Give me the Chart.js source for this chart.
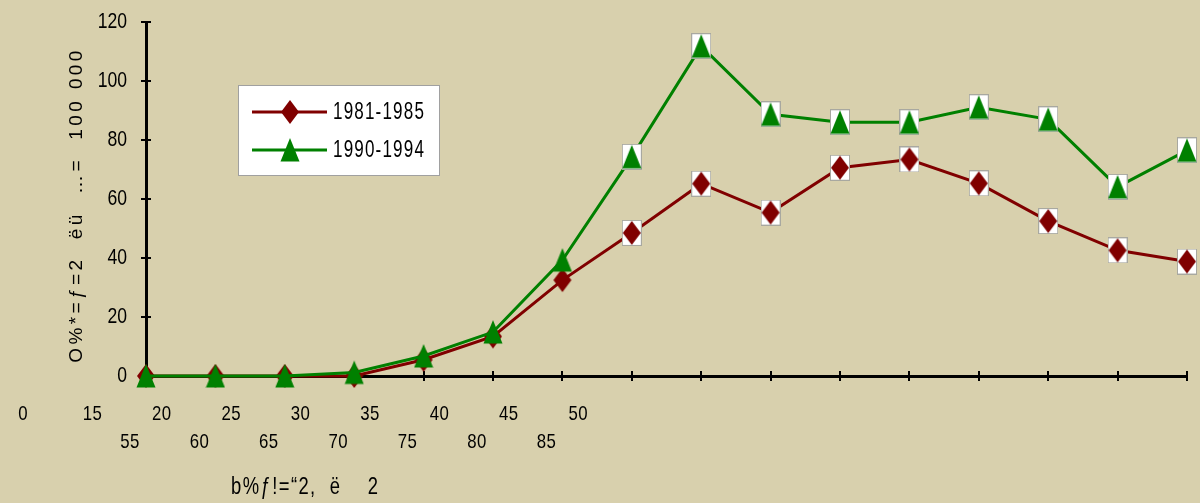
<!DOCTYPE html>
<html>
<head>
<meta charset="utf-8">
<script src="https://cdn.jsdelivr.net/npm/chart.js@4.4.1/dist/chart.umd.min.js"></script>
<style>
  html, body { margin: 0; padding: 0; background: #d8d0ad; }
  #wrap { width: 1200px; height: 503px; position: relative; }
  canvas { display: block; }
</style>
</head>
<body>
<div id="wrap"><canvas id="chart" width="1200" height="503"></canvas></div>
<script>
// Age groups on the horizontal axis
const ageGroups = ['0', '15', '20', '25', '30', '35', '40', '45', '50', '55', '60', '65', '70', '75', '80', '85'];
// Rates per 100 000 for each period
const rates1981 = [0, 0, 0, 0, 5.5, 13.4, 32.5, 48.5, 65.2, 55.4, 70.6, 73.4, 65.3, 52.5, 42.6, 38.8];
const rates1990 = [0, 0, 0, 1.2, 6.8, 14.9, 39.3, 74.3, 111.8, 88.7, 86, 86, 91.1, 87, 64.1, 76.5];
const seriesLabels = ['1981-1985', '1990-1994'];
const seriesColors = ['#800000', '#008000'];
const yTicks = [0, 20, 40, 60, 80, 100, 120];
const yTitle = 'O%*=ƒ=2  ëü  …=  100 000';
const xTitle = 'b%ƒ!=“2,  ë    2';

const FONT = "'Liberation Sans', Arial, sans-serif";

// Text in a horizontally condensed face
function narrowText(ctx, text, x, y, size, align, squeeze, spacing) {
  ctx.save();
  ctx.translate(x, y);
  ctx.scale(squeeze, 1);
  ctx.font = size + 'px ' + FONT;
  ctx.textAlign = align;
  ctx.textBaseline = 'middle';
  ctx.letterSpacing = (spacing || 0) + 'px';
  ctx.fillText(text, 0, 0);
  ctx.restore();
}

// Marker images: plain shapes, and shapes on a small white tile
function makeMarker(shape, color, tiled) {
  const w = 20, h = 26;
  const c = document.createElement('canvas');
  c.width = w; c.height = h;
  const g = c.getContext('2d');
  if (tiled) {
    g.fillStyle = '#ffffff';
    g.fillRect(0, 0, w, h);
    g.strokeStyle = '#a8a8a0';
    g.lineWidth = 1;
    g.strokeRect(0.5, 0.5, w - 1, h - 1);
  }
  g.fillStyle = color;
  g.beginPath();
  const cx = w / 2;
  if (shape === 'diamond') {
    g.moveTo(cx, 1);
    g.lineTo(cx + 9, h / 2);
    g.lineTo(cx, h - 1);
    g.lineTo(cx - 9, h / 2);
  } else {
    g.moveTo(cx, 1);
    g.lineTo(cx + 9.5, h - 1.5);
    g.lineTo(cx - 9.5, h - 1.5);
  }
  g.closePath();
  g.fill();
  return c;
}
const markers = [
  { plain: makeMarker('diamond', seriesColors[0], false), tiled: makeMarker('diamond', seriesColors[0], true) },
  { plain: makeMarker('triangle', seriesColors[1], false), tiled: makeMarker('triangle', seriesColors[1], true) }
];
const firstTiled = 7;

// Inner half of the cross tick marks
const crossTicks = {
  id: 'crossTicks',
  beforeDatasetsDraw(chart) {
    const { ctx, scales: { x, y } } = chart;
    ctx.save();
    ctx.strokeStyle = '#000';
    ctx.lineWidth = 2;
    ctx.beginPath();
    x.ticks.forEach((t, i) => {
      const px = Math.round(x.getPixelForTick(i));
      ctx.moveTo(px, x.top); ctx.lineTo(px, x.top - 5);
    });
    y.ticks.forEach((t, i) => {
      const py = Math.round(y.getPixelForTick(i));
      ctx.moveTo(y.right, py); ctx.lineTo(y.right + 5, py);
    });
    ctx.stroke();
    ctx.restore();
  }
};

// Tick labels, category labels in two rows, and the axis titles
const axisText = {
  id: 'axisText',
  afterDraw(chart) {
    const { ctx, scales: { x, y } } = chart;
    ctx.save();
    ctx.fillStyle = '#000';

    yTicks.forEach(v => narrowText(ctx, String(v), y.right - 19, y.getPixelForValue(v), 22, 'right', 0.8));

    const row1 = ageGroups.slice(0, 9);
    const row2 = ageGroups.slice(9);
    row1.forEach((lab, k) => narrowText(ctx, lab, x.getPixelForValue(k) - 123, 414, 21, 'center', 0.8, 0.5));
    row2.forEach((lab, k) => narrowText(ctx, lab, x.getPixelForValue(k) - 16, 442, 21, 'center', 0.8, 0.5));

    narrowText(ctx, xTitle, 231, 488, 23, 'left', 0.8, 1.8);

    ctx.save();
    ctx.translate(77, 205);
    ctx.rotate(-Math.PI / 2);
    ctx.font = '19px ' + FONT;
    ctx.letterSpacing = '3.4px';
    ctx.textAlign = 'center';
    ctx.textBaseline = 'middle';
    ctx.fillText(yTitle, 0, 0);
    ctx.restore();
    ctx.restore();
  }
};

// Boxed legend inside the plot
const boxLegend = {
  id: 'boxLegend',
  afterDatasetsDraw(chart) {
    const { ctx } = chart;
    const bx = 238, by = 85, bw = 202, bh = 91;
    ctx.save();
    ctx.fillStyle = '#ffffff';
    ctx.fillRect(bx, by, bw, bh);
    ctx.strokeStyle = '#a0a0a0';
    ctx.lineWidth = 1;
    ctx.strokeRect(bx + 0.5, by + 0.5, bw - 1, bh - 1);
    const rows = [112, 150];
    chart.data.datasets.forEach((ds, i) => {
      const yy = rows[i];
      ctx.strokeStyle = seriesColors[i];
      ctx.lineWidth = 3;
      ctx.beginPath();
      ctx.moveTo(252, yy); ctx.lineTo(327, yy);
      ctx.stroke();
      const m = markers[i].plain;
      ctx.drawImage(m, 290 - m.width / 2, yy - m.height / 2);
      ctx.fillStyle = '#000';
      narrowText(ctx, ds.label, 333, yy + 1, 23, 'left', 0.74, 1.6);
    });
    ctx.restore();
  }
};

const axisCommon = {
  border: { display: true, color: '#000', width: 3 },
  grid: { drawOnChartArea: false, drawTicks: true, tickLength: 5, color: '#000', lineWidth: 2 }
};

new Chart(document.getElementById('chart'), {
  type: 'line',
  data: {
    labels: ageGroups,
    datasets: [
      {
        label: seriesLabels[0],
        data: rates1981,
        borderColor: seriesColors[0],
        backgroundColor: seriesColors[0],
        borderWidth: 3,
        pointRadius: 10,
        pointStyle: ctx => ctx.dataIndex >= firstTiled ? markers[0].tiled : markers[0].plain,
        tension: 0,
        clip: false,
        order: 1
      },
      {
        label: seriesLabels[1],
        data: rates1990,
        borderColor: seriesColors[1],
        backgroundColor: seriesColors[1],
        borderWidth: 3,
        pointRadius: 10,
        pointStyle: ctx => ctx.dataIndex >= firstTiled ? markers[1].tiled : markers[1].plain,
        tension: 0,
        clip: false,
        order: 0
      }
    ]
  },
  options: {
    responsive: false,
    animation: false,
    events: [],
    layout: { padding: { left: 0, right: 8, top: 22, bottom: 0 } },
    plugins: { legend: { display: false }, tooltip: { enabled: false }, title: { display: false } },
    scales: {
      x: {
        ...axisCommon,
        offset: false,
        ticks: { display: false },
        afterFit(scale) { scale.height = 127; }
      },
      y: {
        ...axisCommon,
        min: 0,
        max: 120,
        afterBuildTicks(scale) { scale.ticks = yTicks.map(v => ({ value: v })); },
        ticks: { display: false },
        afterFit(scale) { scale.width = 146; }
      }
    }
  },
  plugins: [crossTicks, axisText, boxLegend]
});
</script>
</body>
</html>
